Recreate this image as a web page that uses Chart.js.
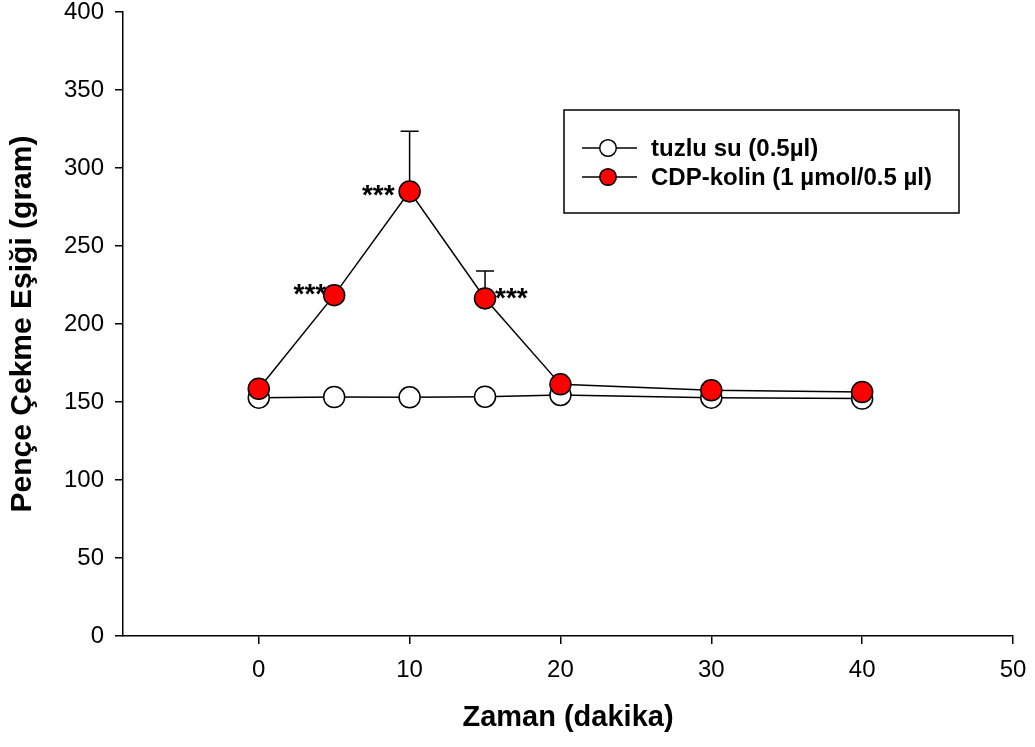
<!DOCTYPE html>
<html>
<head>
<meta charset="utf-8">
<script src="https://cdn.jsdelivr.net/npm/chart.js@4"></script>
<style>
    body { margin: 0; background: #fff; }
    #wrap { width: 1035px; height: 747px; }
</style>
</head>
<body>
<div id="wrap"><canvas id="myChart" width="1035" height="747"></canvas></div>
<script>
// data
const zaman = [0, 5, 10, 15, 20, 30, 40];
const tuzluSu = [152.8, 153.2, 153.0, 153.4, 154.5, 152.8, 152.2];
const cdpKolin = [158.5, 218.5, 285.0, 216.4, 161.3, 157.5, 156.4];
const cdpKolinErr = [0, 0, 38.6, 17.6, 0, 0, 0];
const xTicks = [0, 10, 20, 30, 40, 50];
const yTicks = [0, 50, 100, 150, 200, 250, 300, 350, 400];
const stars = [
    { index: 1, side: 'left' },
    { index: 2, side: 'left' },
    { index: 3, side: 'right' }
];
const legendLabels = ['tuzlu su (0.5\u00b5l)', 'CDP-kolin (1 \u00b5mol/0.5 \u00b5l)'];

const FONT = "'Liberation Sans', Arial, sans-serif";

const toPoints = (xs, ys) => xs.map((x, i) => ({ x: x, y: ys[i] }));

// error bars (upward only) drawn under the markers
const errorBars = {
    id: 'errorBars',
    beforeDatasetsDraw(chart) {
        const ctx = chart.ctx;
        const xs = chart.scales.x, ys = chart.scales.y;
        ctx.save();
        ctx.strokeStyle = '#000';
        ctx.lineWidth = 1.5;
        cdpKolinErr.forEach((e, i) => {
            if (!e) return;
            const px = xs.getPixelForValue(zaman[i]);
            const py = ys.getPixelForValue(cdpKolin[i]);
            const top = ys.getPixelForValue(cdpKolin[i] + e);
            ctx.beginPath();
            ctx.moveTo(px, py);
            ctx.lineTo(px, top);
            ctx.moveTo(px - 9, top);
            ctx.lineTo(px + 9, top);
            ctx.stroke();
        });
        ctx.restore();
    }
};

// significance stars and the boxed legend
const annotations = {
    id: 'annotations',
    afterDatasetsDraw(chart) {
        const ctx = chart.ctx;
        const xs = chart.scales.x, ys = chart.scales.y;
        ctx.save();
        ctx.fillStyle = '#000';
        ctx.font = 'bold 28px ' + FONT;
        ctx.textBaseline = 'alphabetic';
        stars.forEach((s) => {
            const px = xs.getPixelForValue(zaman[s.index]);
            const py = ys.getPixelForValue(cdpKolin[s.index]);
            if (s.side === 'left') {
                ctx.textAlign = 'right';
                const dx = s.index === 2 ? -15 : -8;
                const dy = s.index === 2 ? -3 : -8;
                ctx.fillText('***', px + dx, py + dy + 16);
            } else {
                ctx.textAlign = 'left';
                ctx.fillText('***', px + 10, py - 7 + 16);
            }
        });

        // legend box
        ctx.strokeStyle = '#000';
        ctx.lineWidth = 1.5;
        ctx.strokeRect(564, 110, 395, 103);
        const rows = [148, 177];
        const fills = ['#ffffff', '#ff0000'];
        ctx.font = 'bold 24px ' + FONT;
        ctx.textAlign = 'left';
        ctx.textBaseline = 'middle';
        rows.forEach((y, i) => {
            ctx.beginPath();
            ctx.moveTo(582, y);
            ctx.lineTo(637, y);
            ctx.stroke();
            ctx.beginPath();
            ctx.arc(608, y, 8.3, 0, Math.PI * 2);
            ctx.fillStyle = fills[i];
            ctx.fill();
            ctx.stroke();
            ctx.fillStyle = '#000';
            ctx.fillText(legendLabels[i], 651, y + 1);
        });
        ctx.restore();
    }
};

const config = {
    type: 'line',
    data: {
        datasets: [{
            label: legendLabels[0],
            data: toPoints(zaman, tuzluSu),
            borderColor: '#000',
            borderWidth: 1.5,
            pointRadius: 10.5,
            pointBackgroundColor: '#fff',
            pointBorderColor: '#000',
            pointBorderWidth: 1.5,
            tension: 0,
            order: 2
        },
        {
            label: legendLabels[1],
            data: toPoints(zaman, cdpKolin),
            borderColor: '#000',
            borderWidth: 1.5,
            pointRadius: 10.5,
            pointBackgroundColor: '#ff0000',
            pointBorderColor: '#000',
            pointBorderWidth: 1.5,
            tension: 0,
            order: 1
        }]
    },
    options: {
        responsive: false,
        animation: false,
        events: [],
        layout: { padding: { top: 12, right: 22, left: 0, bottom: 0 } },
        plugins: {
            legend: { display: false },
            tooltip: { enabled: false }
        },
        scales: {
            x: {
                type: 'linear',
                min: -9,
                max: 50,
                afterBuildTicks: (scale) => { scale.ticks = xTicks.map((v) => ({ value: v })); },
                afterFit: (scale) => {
                    scale.height = 111;
                    scale.paddingLeft = 0; scale.paddingRight = 0;
                    scale.paddingTop = 0; scale.paddingBottom = 0;
                },
                border: { display: true, color: '#000', width: 1.5 },
                grid: { drawOnChartArea: false, drawTicks: true, tickLength: 8, color: '#000', lineWidth: 1.5 },
                ticks: { color: '#000', padding: 12, font: { family: FONT, size: 24 } },
                title: {
                    display: true,
                    text: 'Zaman (dakika)',
                    color: '#000',
                    font: { family: FONT, size: 29, weight: 'bold' },
                    padding: { top: 0, bottom: 12 }
                }
            },
            y: {
                min: 0,
                max: 400,
                afterBuildTicks: (scale) => { scale.ticks = yTicks.map((v) => ({ value: v })); },
                afterFit: (scale) => {
                    scale.width = 123;
                    scale.paddingLeft = 0; scale.paddingRight = 0;
                    scale.paddingTop = 0; scale.paddingBottom = 0;
                },
                border: { display: true, color: '#000', width: 1.5 },
                grid: { drawOnChartArea: false, drawTicks: true, tickLength: 8, color: '#000', lineWidth: 1.5 },
                ticks: { color: '#000', padding: 11, font: { family: FONT, size: 24 } },
                title: {
                    display: true,
                    text: 'Pençe Çekme Eşiği (gram)',
                    color: '#000',
                    font: { family: FONT, size: 30, weight: 'bold' },
                    padding: { top: 5, bottom: 0 }
                }
            }
        }
    },
    plugins: [errorBars, annotations]
};

const myChart = new Chart(document.getElementById('myChart'), config);
</script>
</body>
</html>
